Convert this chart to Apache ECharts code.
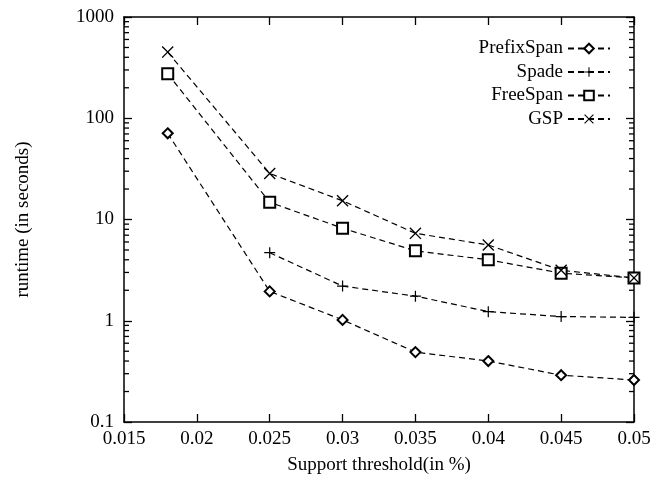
<!DOCTYPE html>
<html>
<head>
<meta charset="utf-8">
<script src="https://cdn.jsdelivr.net/npm/echarts@6/dist/echarts.min.js"></script>
<style>
  html, body { margin: 0; padding: 0; background: #fff; }
  #chart { width: 658px; height: 483px; }
</style>
</head>
<body>
<div id="chart"></div>
<script>
// support thresholds (x) and runtimes
var thresholds = [0.018, 0.025, 0.03, 0.035, 0.04, 0.045, 0.05]
var prefixSpan = [71, 1.95, 1.02, 0.49, 0.40, 0.29, 0.26]
var spade = [null, 4.7, 2.2, 1.75, 1.23, 1.1, 1.08]
var freeSpan = [275, 14.8, 8.2, 4.9, 4.0, 2.95, 2.65]
var gsp = [450, 28.5, 15.3, 7.3, 5.6, 3.15, 2.65]
var seriesNames = ['PrefixSpan', 'Spade', 'FreeSpan', 'GSP']
var yMinor = [0.2, 0.3, 0.4, 0.5, 0.6, 0.7, 0.8, 0.9,
  2, 3, 4, 5, 6, 7, 8, 9,
  20, 30, 40, 50, 60, 70, 80, 90,
  200, 300, 400, 500, 600, 700, 800, 900]

var serif = 'Liberation Serif'
var plusPath = 'path://M4.45,0H5.55V10H4.45Z M0,4.45H10V5.55H0Z'
var crossPath = 'path://M0,0.8L0.8,0L10,9.2L9.2,10Z M9.2,0L10,0.8L0.8,10L0,9.2Z'
var symbols = ['emptyDiamond', plusPath, 'emptyRect', crossPath]
var symbolSizes = [10, 11, 11, 12]
var dataSets = [prefixSpan, spade, freeSpan, gsp]

function pairs (vals) {
  var out = []
  for (let i = 0; i < thresholds.length; i++) {
    if (vals[i] != null) out.push([thresholds[i], vals[i]])
  }
  return out
}

var series = seriesNames.map(function (name, i) {
  var empty = i == 0 || i == 2
  return {
    name: name,
    type: 'line',
    data: pairs(dataSets[i]),
    symbol: symbols[i],
    symbolSize: symbolSizes[i],
    showAllSymbol: true,
    itemStyle: { color: '#000', borderColor: '#000', borderWidth: empty ? 1.3 : 0 },
    lineStyle: { color: '#000', width: 1.2, type: [6, 4] },
    emphasis: { disabled: true }
  }
})

// log axis carrying the labels and the decade ticks
function yAxisOf (position, labels) {
  return {
    type: 'log',
    logBase: 10,
    min: 0.1,
    max: 1000,
    position: position,
    axisLine: { show: true, lineStyle: { color: '#000', width: 1.5 } },
    axisTick: { show: true, inside: true, length: 8, lineStyle: { color: '#000', width: 1.3 } },
    axisLabel: { show: labels, color: '#000', fontFamily: serif, fontSize: 19, margin: 10,
      formatter: function (v) { return String(+v.toPrecision(3)) } },
    splitLine: { show: false }
  }
}

function xAxisOf (position, labels) {
  return {
    type: 'value',
    min: 0.015,
    max: 0.05,
    interval: 0.005,
    position: position,
    name: labels ? 'Support threshold(in %)' : '',
    nameLocation: 'middle',
    nameGap: 34,
    nameTextStyle: { color: '#000', fontFamily: serif, fontSize: 19 },
    axisLine: { show: true, onZero: false, lineStyle: { color: '#000', width: 1.5 } },
    axisTick: { show: true, inside: true, length: 8, lineStyle: { color: '#000', width: 1.3 } },
    axisLabel: { show: labels, color: '#000', fontFamily: serif, fontSize: 19, margin: 8,
      formatter: function (v) { return String(+v.toFixed(3)) } },
    splitLine: { show: false }
  }
}

var leftAxis = yAxisOf('left', true)
leftAxis.name = 'runtime (in seconds)'
leftAxis.nameLocation = 'middle'
leftAxis.nameGap = 91
leftAxis.nameTextStyle = { color: '#000', fontFamily: serif, fontSize: 19 }

var option = {
  animation: false,
  backgroundColor: '#fff',
  grid: { left: 124, right: 24, top: 17, bottom: 61 },
  legend: {
    data: seriesNames,
    orient: 'vertical',
    align: 'right',
    right: 42,
    top: 34,
    itemWidth: 42,
    itemHeight: 12,
    itemGap: 4.5,
    textStyle: { color: '#000', fontFamily: serif, fontSize: 19 }
  },
  xAxis: [xAxisOf('bottom', true), xAxisOf('top', false)],
  yAxis: [leftAxis, yAxisOf('right', false)],
  series: series
}

const myChart = echarts.init(document.getElementById('chart'))
myChart.setOption(option)

// 2..9 minor ticks on both vertical edges, placed through the chart's own log scale
var xl = myChart.convertToPixel({ xAxisIndex: 0 }, 0.015)
var xr = myChart.convertToPixel({ xAxisIndex: 0 }, 0.05)
var minorTicks = []
yMinor.forEach(function (v) {
  var y = myChart.convertToPixel({ yAxisIndex: 0 }, v)
  minorTicks.push({ type: 'line', z: 100, shape: { x1: xl, y1: y, x2: xl + 5, y2: y }, style: { stroke: '#000', lineWidth: 1.3 } })
  minorTicks.push({ type: 'line', z: 100, shape: { x1: xr - 5, y1: y, x2: xr, y2: y }, style: { stroke: '#000', lineWidth: 1.3 } })
})
myChart.setOption({ graphic: minorTicks })
</script>
</body>
</html>
